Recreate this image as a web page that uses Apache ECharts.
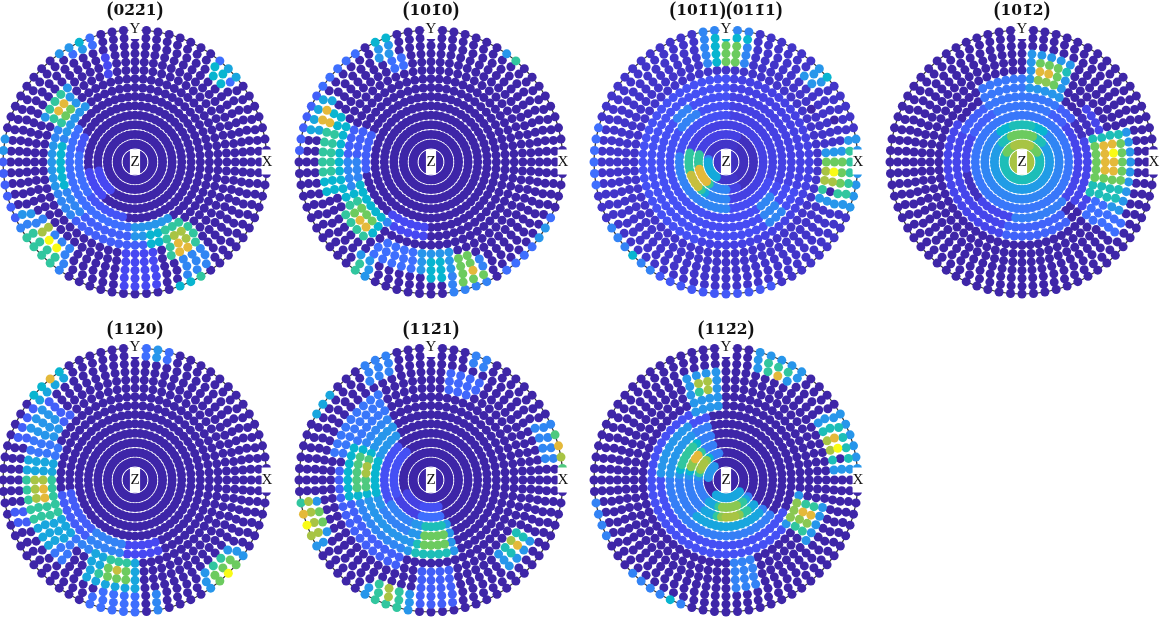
<!DOCTYPE html>
<html><head><meta charset="utf-8">
<style>html,body{margin:0;padding:0;background:#fff}#c{width:1161px;height:617px}</style>
<script src="https://cdn.jsdelivr.net/npm/echarts@6/dist/echarts.min.js"></script>
</head><body><div id="c"></div>
<script>
// polar distance of each sampling ring (degrees) and how many directions it holds
const ringPolar = [4.8,11,17,23,29,35,41,47,53,59,65,71,77,83.5,90];
const ringCounts = [40,44,48,52,56,56,60,60,64,64,68,68,68,72,72];
const titles = ['02\u03042\u03041','101\u03040','101\u03041','101\u03042','112\u03040','112\u03041','112\u03042'];
// estimated intensity regions:
// [firstRing, lastRing, fromAngle, toAngle, level]; later rows overwrite earlier ones
const pf0221 = [
 [4,5,190,230,1],[6,6,150,260,1.3],[6,6,170,215,2],[7,7,145,295,2],[8,9,135,225,2.6],[8,8,165,200,4],[9,9,165,200,3],[8,9,225,285,1.6],[7,8,270,300,3],[8,9,280,305,4],
 [10,14,264,282,1],[11,14,294,308,2.6],[15,15,290,302,4],[15,15,296,300,5],
 [8,11,289,310,5],[9,11,293,306,7],[10,11,295,303,8],
 [15,15,168,205,1.6],[15,15,170,176,3],[13,14,202,210,3],[12,15,207,236,2.5],[13,15,212,232,5],[12,13,216,222,7],[13,13,219,228,10],
 [14,15,110,124,2],[15,15,112,120,4],[14,14,112,118,3],[15,15,120,128,3],
 [8,11,132,156,3],[9,11,136,152,5],[10,10,138,151,8],[9,9,140,150,6],
 [13,15,40,52,2],[13,14,42,50,4],[15,15,40,48,3.5],[10,12,102,108,1]
];
const pf1010 = [
 [7,9,155,190,1.6],[7,8,230,265,1],[8,10,175,235,2.6],[8,10,198,232,4],[9,11,207,230,5],[9,10,211,229,6],[10,10,217,228,8],
 [10,12,152,198,4],[11,12,160,190,5],[15,15,140,175,1.6],[13,14,148,168,3.5],[13,13,152,163,8],[12,12,155,160,8],
 [12,15,280,298,2.5],[10,12,262,282,3],[11,13,270,280,4],[11,14,283,296,6],[12,12,282,285,8],[12,12,286,290,10],[13,13,288,292,8],
 [13,15,232,241,3],[14,15,232,237,5],[10,12,238,260,2],
 [13,15,107,118,3],[15,15,110,115,4],[11,12,105,112,2],[15,15,125,145,2],
 [15,15,305,335,2],[15,15,325,332,3],[15,15,48,58,3],[15,15,48,52,5]
];
const pf1011 = [
 [1,15,0,360,0.45],[3,9,0,360,0.8],[5,9,90,250,1.2],[6,7,122,142,2.5],[5,8,250,340,1.1],[6,8,305,322,2.6],[1,3,300,60,0.3],
 [2,5,170,245,2.5],[2,4,175,240,3.6],[3,5,240,270,2.6],[3,4,165,190,5],[3,4,180,235,5],[3,3,188,230,8],[4,4,195,225,7.5],
 [11,15,78,102,2.6],[11,14,80,98,4],[11,13,82,95,5],[11,13,84,90,6],
 [11,15,338,10,3],[11,14,342,5,5],[11,13,346,2,6],[11,12,349,358,7],[12,12,352,356,10],[12,12,343,346,0],
 [13,15,38,48,3],[15,15,38,42,4],[15,15,165,190,2],[15,15,210,235,2.5],[15,15,222,226,4],[15,15,240,290,1.4],
 [11,11,28,32,0],[13,13,20,24,0]
];
const pf1012 = [
 [5,8,150,258,0.9],[4,9,320,40,0.9],[4,7,40,150,1.6],[5,9,60,120,2.2],[4,6,258,320,2.4],[7,8,258,310,1.7],
 [1,1,0,360,7],[2,2,0,360,4.5],[2,2,30,150,6],[2,2,60,120,7],[3,3,0,360,3.2],[3,3,40,140,4.5],[3,3,65,115,6],[4,4,0,360,2.6],[4,4,50,130,4],[4,4,70,110,4.5],[5,5,0,360,2.2],
 [8,12,60,86,3],[9,11,62,84,4.5],[9,11,66,82,6],[10,10,71,79,8],[9,9,70,80,6.5],
 [9,13,318,332,2],[8,12,332,20,3],[8,11,335,18,4.5],[8,11,347,15,6],[9,10,352,12,8],[10,10,2,8,10],
 [6,6,190,220,0.3],[7,8,20,40,0.3]
];
const pf1120 = [
 [7,8,190,290,1],[7,8,190,240,1.5],[10,14,135,160,1.6],[10,13,142,156,3],[15,15,125,140,4],[15,15,130,134,8],[14,14,125,140,3.5],
 [9,12,155,230,2.2],[9,12,165,220,3.5],[9,12,175,205,5],[10,11,180,195,7],[10,10,183,192,8],
 [7,9,230,260,2.5],[13,15,250,270,2],[13,15,276,282,2.6],[9,12,240,270,3.5],[9,11,248,268,5],[10,11,252,266,6],[10,10,254,264,7.5],
 [13,15,305,326,3],[13,15,308,322,5],[14,15,310,320,6],[15,15,312,316,10],
 [14,15,72,88,2],[14,15,76,84,3],[13,14,192,203,1.5]
];
const pf1121 = [
 [4,5,130,245,1.2],[9,11,120,165,2.2],[9,10,170,250,1.6],[8,8,125,255,2.6],[6,7,125,255,3],[6,9,155,195,4],[7,8,160,190,5.5],[7,7,165,178,7],
 [5,6,212,250,2.5],[3,4,205,250,0.8],[5,8,250,292,3],[5,8,258,285,4.5],[6,7,262,283,6],[3,4,250,285,1.2],[4,4,255,285,2],
 [13,15,188,210,3],[14,15,190,205,7],[15,15,196,200,10],[15,15,191,195,8],[15,15,186,190,5],[13,13,193,204,6],
 [13,15,8,28,2.6],[15,15,5,22,5.5],[15,15,12,17,8],[15,15,8,11,7],
 [11,13,312,333,3],[11,12,315,330,4.5],[11,12,320,328,7],[12,12,322,326,8],
 [13,15,240,260,3],[13,15,243,256,5],[13,14,246,252,7],
 [14,15,62,73,2.5],[13,15,110,122,2.5],[15,15,140,152,3.5],[10,14,264,282,1.6],[10,12,62,80,1.8]
];
const pf1122 = [
 [7,8,105,330,1.2],[3,6,105,325,2.4],[2,7,125,175,3],[3,5,125,170,4],[3,5,130,165,5],[3,4,135,160,6.5],[3,4,137,150,8],[3,3,140,155,7],
 [2,5,230,320,3.5],[3,4,250,310,5],[3,4,262,295,6.5],[4,4,268,290,7],
 [8,11,322,348,3],[8,10,325,345,5],[8,10,329,343,6.5],[9,10,333,341,8],
 [8,12,92,116,3],[10,11,98,110,5],[10,11,100,106,7],
 [13,15,55,75,3],[13,14,60,70,5],[13,13,62,66,8],
 [12,15,2,33,3],[12,14,8,28,4.5],[12,13,12,22,7],[13,13,15,19,10],[13,13,20,24,8],[13,13,8,11,0],
 [15,15,225,250,2.5],[15,15,242,246,4],[15,15,190,205,2.5],[9,12,274,288,2.5]
];
const figures = [pf0221,pf1010,pf1011,pf1012,pf1120,pf1121,pf1122];
const centers = [[135,162],[431,162],[726,162],[1022,162],[135,480],[431,480],[726,480]];
const parula = ['#3e26a8','#4748f2','#3e6ffe','#2796eb','#08b5d0','#31c69f','#6ccb5f','#a8c444','#e4b93a','#fbc72e','#f9fb15'];

function levelAt(patches, ring, angle){
  let v = 0;
  for (const [k0,k1,a0,a1,l] of patches){
    if (ring < k0 || ring > k1) continue;
    const full = a1 - a0 >= 360;
    const inside = full || (a0 <= a1 ? (angle >= a0 && angle <= a1) : (angle >= a0 || angle <= a1));
    if (inside) v = l;
  }
  return v;
}
function pointsOf(patches){
  const out = [];
  ringPolar.forEach((theta, i) => {
    const r = Math.SQRT2 * Math.sin(theta * Math.PI / 360); // equal-area projection
    for (let j = 0; j < ringCounts[i]; j++){
      const a = j * 360 / ringCounts[i];
      out.push([r, a, levelAt(patches, i + 1, a)]);
    }
  });
  return out.sort((p, q) => p[2] - q[2]);
}
const font = '"Liberation Serif","DejaVu Serif",serif';
const chart = echarts.init(document.getElementById('c'), null, {renderer:'canvas'});
const label = (t, x, y, pad) => ({type:'text', z:50, silent:true, style:{text:t, x, y, align:'center', verticalAlign:'middle',
   font:'15px '+font, fill:'#111', backgroundColor:'#fff', padding:pad}});
const graphic = [];
centers.forEach(([x,y]) => {
  graphic.push(label('Z', x, y, [1,0.5,9,0.5]), label('Y', x, y-133, [4,1,1,1]), label('X', x+132, y, [2,0,8,0]));
});
chart.setOption({
  animation:false,
  backgroundColor:'#fff',
  title: titles.map((t,i)=>({
    text:'{p|(}{b|'+t+'}{p|)}'+(i===2?'{p|(}{b|011\u03041}{p|)}':''),
    left:centers[i][0], top:centers[i][1]-162+(i>3?2:1), textAlign:'center', padding:0,
    textStyle:{rich:{p:{fontFamily:font,fontSize:20,color:'#111'},b:{fontFamily:'"DejaVu Serif"',fontSize:15.5,fontWeight:'bold',color:'#111'}}}
  })),
  polar: centers.map(c=>({center:c, radius:132})),
  angleAxis: centers.map((c,i)=>({polarIndex:i,type:'value',min:0,max:360,startAngle:0,clockwise:false,
    axisLabel:{show:false},axisTick:{show:false},splitLine:{show:false},
    axisLine:{show:true,lineStyle:{color:'#333',width:1.2}}})),
  radiusAxis: centers.map((c,i)=>({polarIndex:i,type:'value',min:0,max:1,
    axisLabel:{show:false},axisTick:{show:false},splitLine:{show:false},axisLine:{show:false}})),
  visualMap:{show:false,type:'continuous',min:0,max:10,dimension:2,inRange:{color:parula}},
  series: figures.map((f,i)=>({type:'scatter',coordinateSystem:'polar',polarIndex:i,clip:false,symbol:'circle',symbolSize:9,
    itemStyle:{opacity:1},encode:{radius:0,angle:1},data:pointsOf(f),silent:true,z:2})),
  graphic
});
</script></body></html>
